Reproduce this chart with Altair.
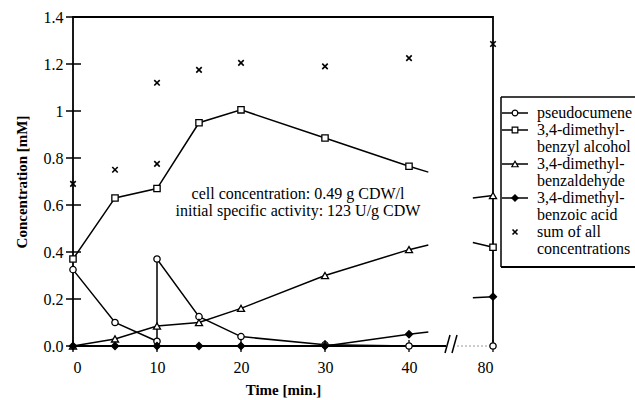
import altair as alt
import pandas as pd

# ---------------- data ----------------
times_pc = [0, 5, 10, 10, 15, 20, 30, 40, 80]
pseudocumene = [0.325, 0.10, 0.02, 0.37, 0.125, 0.04, 0.005, 0.0, 0.0]

times = [0, 5, 10, 15, 20, 30, 40, 80]
benzyl_alcohol = [0.37, 0.63, 0.67, 0.95, 1.005, 0.885, 0.765, 0.42]
benzaldehyde = [0.0, 0.03, 0.085, 0.10, 0.16, 0.30, 0.41, 0.64]
benzoic_acid = [0.0, 0.0, 0.0, 0.0, 0.0, 0.0, 0.05, 0.21]

times_sum = [0, 5, 10, 10, 15, 20, 30, 40, 80]
sum_all = [0.69, 0.75, 0.775, 1.12, 1.175, 1.205, 1.19, 1.225, 1.285]

# line stubs on either side of the axis break (values read at the break edges)
series_names = ["pseudocumene", "benzyl alcohol", "benzaldehyde", "benzoic acid"]
stub_after_40 = [0.0, 0.74, 0.43, 0.06]
stub_before_80 = [0.0, 0.44, 0.63, 0.205]

y_ticks = [0, 0.2, 0.4, 0.6, 0.8, 1.0, 1.2, 1.4]
x_ticks = [0, 10, 20, 30, 40, 80]

legend_labels = ["pseudocumene", "3,4-dimethyl-\nbenzyl alcohol", "3,4-dimethyl-\nbenzaldehyde",
                 "3,4-dimethyl-\nbenzoic acid", "sum of all\nconcentrations"]
note = "cell concentration: 0.49 g CDW/l\ninitial specific activity: 123 U/g CDW"

# ---------------- broken time axis: 0..40 linear, 80 drawn at 50 ----------------
BREAK_LO, BREAK_HI, POS_80 = 42.3, 47.6, 50


def pos(t):
    return t if t <= 40 else POS_80


series_t = [times_pc, times, times, times]
series_v = [pseudocumene, benzyl_alcohol, benzaldehyde, benzoic_acid]

line_rows, point_rows = [], []
for name, ts, vs, sa, sb in zip(series_names, series_t, series_v, stub_after_40, stub_before_80):
    k = 0
    for t, v in zip(ts, vs):
        point_rows.append({"series": name, "pos": pos(t), "v": v})
        if t <= 40:
            line_rows.append({"series": name, "seg": "a", "pos": pos(t), "v": v, "ord": k})
            k += 1
    line_rows.append({"series": name, "seg": "a", "pos": BREAK_LO, "v": sa, "ord": k}); k += 1
    line_rows.append({"series": name, "seg": "b", "pos": BREAK_HI, "v": sb, "ord": k}); k += 1
    line_rows.append({"series": name, "seg": "b", "pos": POS_80, "v": vs[-1], "ord": k})
for t, v in zip(times_sum, sum_all):
    point_rows.append({"series": "sum", "pos": pos(t), "v": v})

lines_df = pd.DataFrame(line_rows)
points_df = pd.DataFrame(point_rows)

W, H = 420, 329
FONT = "Liberation Serif"

x_axis = alt.Axis(values=[0, 10, 20, 30, 40, 50],
                  labelExpr="datum.value == 50 ? '80' : datum.label",
                  domain=False, ticks=False, grid=False, labelPadding=13,
                  labelFontSize=16, titleFontSize=15, titleFontWeight="bold", titlePadding=7)
y_axis = alt.Axis(values=y_ticks, labelExpr="datum.value == 1 ? '1' : format(datum.value, '.1f')",
                  domain=False, ticks=False, grid=False, labelPadding=10,
                  labelFontSize=16, titleFontSize=15, titleFontWeight="bold", titlePadding=14)

X = alt.X("pos:Q", scale=alt.Scale(domain=[0, 50], nice=False, zero=False), axis=x_axis, title="Time [min.]")
Y = alt.Y("v:Q", scale=alt.Scale(domain=[0, 1.4], nice=False), axis=y_axis, title="Concentration [mM]")

lines = alt.Chart(lines_df).mark_line(color="black", strokeWidth=1.5).encode(
    x=X, y=Y, detail=["series:N", "seg:N"], order="ord:Q")

one = pd.DataFrame({"k": [0]})

# axis break decoration
mask = alt.Chart(one).mark_rect(color="white").encode(
    x=alt.value(373), x2=alt.value(418), y=alt.value(325), y2=alt.value(333))
faint = alt.Chart(one).mark_rule(color="#999999", strokeWidth=1, strokeDash=[2, 2]).encode(
    x=alt.value(384), x2=alt.value(418), y=alt.value(329))
slash1 = alt.Chart(one).mark_rule(color="black", strokeWidth=1.5).encode(
    x=alt.value(372), x2=alt.value(377), y=alt.value(336), y2=alt.value(318))
slash2 = alt.Chart(one).mark_rule(color="black", strokeWidth=1.5).encode(
    x=alt.value(379), x2=alt.value(384), y=alt.value(336), y2=alt.value(318))

# crossing tick marks
ytick_df = pd.DataFrame({"v": y_ticks})
yticks = alt.Chart(ytick_df).mark_rule(color="black", strokeWidth=1.5).encode(
    y=Y, x=alt.value(-7), x2=alt.value(8))
xtick_df = pd.DataFrame({"pos": [pos(t) for t in x_ticks]})
xticks = alt.Chart(xtick_df).mark_rule(color="black", strokeWidth=1.3).encode(
    x=X, y=alt.value(H - 6), y2=alt.value(H + 6))

XPATH = "M-1,-1L1,1M-1,1L1,-1"
styles = {
    "pseudocumene": dict(shape="circle", size=40, fill="white"),
    "benzyl alcohol": dict(shape="square", size=40, fill="white"),
    "benzaldehyde": dict(shape="triangle-up", size=50, fill="white"),
    "benzoic acid": dict(shape="diamond", size=50, fill="black"),
}

point_layers = []
for name in ["pseudocumene", "benzyl alcohol", "benzaldehyde", "benzoic acid"]:
    st = styles[name]
    point_layers.append(
        alt.Chart(points_df).transform_filter(alt.datum.series == name).mark_point(
            shape=st["shape"], size=st["size"], filled=True, fill=st["fill"],
            stroke="black", strokeWidth=1.3, opacity=1).encode(x=X, y=Y))
point_layers.append(
    alt.Chart(points_df).transform_filter(alt.datum.series == "sum").mark_point(
        shape=XPATH, size=30, filled=False, stroke="black", strokeWidth=1.6, opacity=1).encode(x=X, y=Y))

# annotation
annot = alt.Chart(one).mark_text(font=FONT, fontSize=16, align="center", baseline="top",
                                 lineBreak="\n", lineHeight=17, color="black").encode(
    x=alt.value(225), y=alt.value(169), text=alt.value(note))

# legend (drawn by hand, to the right of the plot; its right side runs off the page)
legend_edges = [
    alt.Chart(one).mark_rule(color="black", strokeWidth=1.5).encode(
        x=alt.value(428), y=alt.value(80), y2=alt.value(250)),
    alt.Chart(one).mark_rule(color="black", strokeWidth=1.5).encode(
        x=alt.value(428), x2=alt.value(900), y=alt.value(80)),
    alt.Chart(one).mark_rule(color="black", strokeWidth=2).encode(
        x=alt.value(428), x2=alt.value(900), y=alt.value(250)),
]
legend_layers = [*legend_edges]
row_y = [96, 113, 147, 181, 215]
legend_shapes = ["circle", "square", "triangle-up", "diamond", XPATH]
legend_fill = ["white", "white", "white", "black", None]
for i, (lab, ry) in enumerate(zip(legend_labels, row_y)):
    if i < 4:
        legend_layers.append(alt.Chart(one).mark_rule(color="black", strokeWidth=1.5).encode(
            x=alt.value(429), x2=alt.value(455), y=alt.value(ry)))
        legend_layers.append(alt.Chart(one).mark_point(
            shape=legend_shapes[i], size=styles[series_names[i]]["size"] * 0.8, filled=True,
            fill=legend_fill[i], stroke="black", strokeWidth=1.2, opacity=1).encode(
            x=alt.value(442), y=alt.value(ry)))
    else:
        legend_layers.append(alt.Chart(one).mark_point(
            shape=XPATH, size=25, filled=False, stroke="black", strokeWidth=1.6, opacity=1).encode(
            x=alt.value(442), y=alt.value(ry)))
    legend_layers.append(alt.Chart(one).mark_text(
        font=FONT, fontSize=16, align="left", baseline="top", lineBreak="\n", lineHeight=17,
        color="black").encode(x=alt.value(464), y=alt.value(ry - 8), text=alt.value(lab)))

chart = alt.layer(
    lines, mask, faint, slash1, slash2, yticks, xticks, *point_layers, annot, *legend_layers
).properties(
    width=W, height=H,
    autosize=alt.AutoSizeParams(type="none"),
    padding={"left": 73, "top": 17, "right": 142, "bottom": 54},
    background="white",
).configure_view(
    stroke="black", strokeWidth=1.8
).configure_axis(
    labelFont=FONT, titleFont=FONT, labelColor="black", titleColor="black"
).configure_text(font=FONT)

chart.save("out.html", embed_options={"renderer": "svg", "actions": False})
